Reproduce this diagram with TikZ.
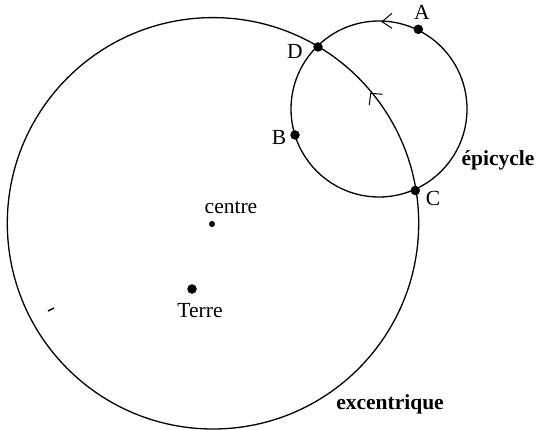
\documentclass[tikz,border=0pt]{standalone}
\usepackage{fontspec}
\setmainfont{Liberation Serif}
\begin{document}
\begin{tikzpicture}[x=1pt,y=-1pt,line width=1.3pt,
  pt/.style={circle,fill=black,inner sep=0pt,minimum size=9.5pt},
  smallpt/.style={circle,fill=black,inner sep=0pt,minimum size=6pt},
  lab/.style={font=\fontsize{21.5}{24}\selectfont,inner sep=0pt},
  blab/.style={font=\fontsize{21.5}{24}\selectfont\bfseries,inner sep=0pt}]
\useasboundingbox (0,0) rectangle (537,430);
% circles
\draw (213,223.3) circle[radius=205.7];
\draw (379,109) circle[radius=88];
% points
\node[pt] (A) at (418.3,29.3) {};
\node[pt] (D) at (318,47) {};
\node[pt] (B) at (295,135) {};
\node[pt] (C) at (415.3,190.5) {};
\node[pt] (T) at (192,289) {};
\node[smallpt] (O) at (212,224) {};
% labels
\node[lab] (lA) at (422,12) {A};
\node[lab] (lD) at (295,51) {D};
\node[lab] (lB) at (279,137) {B};
\node[lab] (lC) at (433,198) {C};
\node[lab] (lO) at (231,208) {centre};
\node[lab] (lT) at (200,311) {Terre};
\node[blab] (le) at (498,160) {épicycle};
\node[blab] (lx) at (390,404) {excentrique};
% arrow marks
\draw[line width=1pt] (392,13.3) -- (382,21.7) -- (392,28.3);
\draw[line width=1pt] (369.3,105) -- (370.7,93.3) -- (382.7,94.3);
% stray mark
\draw[line width=1.5pt] (48,311) -- (54,308);
\end{tikzpicture}
\end{document}
